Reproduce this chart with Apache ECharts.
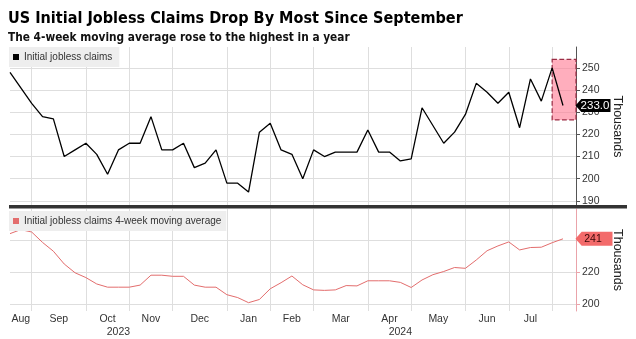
<!DOCTYPE html>
<html><head><meta charset="utf-8">
<script src="https://cdn.jsdelivr.net/npm/echarts@6/dist/echarts.min.js"></script>
<style>html,body{margin:0;padding:0;background:#fff}#c{width:636px;height:339px}</style>
</head><body><div id="c"></div>
<script>
// ---- data ----
const weeks = ['2023-08-12','2023-08-19','2023-08-26','2023-09-02','2023-09-09','2023-09-16','2023-09-23','2023-09-30',
  '2023-10-07','2023-10-14','2023-10-21','2023-10-28','2023-11-04','2023-11-11','2023-11-18','2023-11-25',
  '2023-12-02','2023-12-09','2023-12-16','2023-12-23','2023-12-30','2024-01-06','2024-01-13','2024-01-20','2024-01-27',
  '2024-02-03','2024-02-10','2024-02-17','2024-02-24','2024-03-02','2024-03-09','2024-03-16','2024-03-23','2024-03-30',
  '2024-04-06','2024-04-13','2024-04-20','2024-04-27','2024-05-04','2024-05-11','2024-05-18','2024-05-25',
  '2024-06-01','2024-06-08','2024-06-15','2024-06-22','2024-06-29','2024-07-06','2024-07-13','2024-07-20','2024-07-27','2024-08-03'];
const claims = [248,241,234,228,227,210,213,216,211,202,213,216,216,228,213,213,216,205,207,213,198,198,194,221,225,
  213,211,200,213,210,212,212,212,222,212,212,208,209,232,224,216,221,229,243,239,234,239,223,245,235,250,233];
const avg4w = [244,246.5,245,238.5,233,225,219.5,216.5,212.5,210.5,210.5,210.5,211.8,218,218,217.3,217.3,211.8,210.5,210.5,
  205.8,204,200.8,202.8,209.5,213.3,217.5,212,208.8,208.5,208.8,211.5,211.3,214.5,214.5,214.5,213.5,210.3,215,218.3,
  220.3,222.8,222.3,227.5,233.3,236.3,238.8,233.8,235.3,235.5,238.3,240.75];
const monthLabels = ['Aug','Sep','Oct','Nov','Dec','Jan','Feb','Mar','Apr','May','Jun','Jul'];
const monthBoundaries = [2,7,11,15,20,24,28,33,37,42,46,50]; // week index where each new month starts
const yearLabels = ['2023','2024'];
const yearWeek = [10,36];
const topTicks = [190,200,210,220,230,240,250];
const bottomTicks = [200,220,240];
const bottomLabels = [200,220];
const highlightWeeks = [50, 52.2];
const highlightRange = [226.5, 253.8];

const titleText = 'US Initial Jobless Claims Drop By Most Since September';
const subText = 'The 4-week moving average rose to the highest in a year';

// ---- helpers ----
const ctx = document.createElement('canvas').getContext('2d');
function has(name) {
  ctx.font = 'bold 40px monospace';
  const a = ctx.measureText('abcdefghijklmnopqrstuvwxyz ABCDEFGHIJ').width;
  ctx.font = "bold 40px '" + name + "',monospace";
  const b = ctx.measureText('abcdefghijklmnopqrstuvwxyz ABCDEFGHIJ').width;
  return Math.abs(a - b) > 0.5;
}
const tCand = ['Liberation Sans Narrow', 'DejaVu Sans Condensed', 'Open Sans', 'Liberation Sans'];
const FT = "'" + (tCand.find(has) || 'Liberation Sans') + "',sans-serif";
const FB = "'Liberation Sans',Arial,sans-serif";
function fit(text, target) {
  ctx.font = 'bold 100px ' + FT;
  return 100 * target / ctx.measureText(text).width;
}
const xMax = 52.2;
const monthMid = monthBoundaries.map((b, i) => ((i === 0 ? 0 : monthBoundaries[i - 1]) + b) / 2);
const last = claims.length - 1;
const grid = '#dedede';
const tSize = fit(titleText, 455), sSize = fit(subText, 342);

const chart = echarts.init(document.getElementById('c'), null, {renderer: 'canvas'});
chart.setOption({
  animation: false,
  backgroundColor: '#fff',
  textStyle: {fontFamily: FB},
  title: [
    {text: titleText, left: 8, top: 20.5 - tSize * 0.6, padding: 0,
      textStyle: {fontSize: tSize, fontWeight: 'bold', fontFamily: FT, color: '#000'}},
    {text: subText, left: 8, top: 39.5 - sSize * 0.6, padding: 0,
      textStyle: {fontSize: sSize, fontWeight: 'bold', fontFamily: FT, color: '#111'}}
  ],
  legend: [
    {data: ['Initial jobless claims'], left: 9, top: 47, padding: [5, 7, 5, 4], backgroundColor: '#eeeeee',
      icon: 'rect', itemWidth: 6, itemHeight: 6, selectedMode: false,
      textStyle: {fontSize: 10, color: '#333', fontFamily: FB}},
    {data: ['Initial jobless claims 4-week moving average'], left: 9, top: 211, padding: [5, 5, 5, 4],
      backgroundColor: '#eeeeee', icon: 'rect', itemWidth: 6, itemHeight: 6, selectedMode: false,
      textStyle: {fontSize: 10, color: '#333', fontFamily: FB}}
  ],
  grid: [
    {left: 10, width: 566, top: 47, height: 159, outerBoundsMode: 'none'},
    {left: 10, width: 566, top: 209, height: 102, outerBoundsMode: 'none'}
  ],
  graphic: [
    {type: 'rect', left: 9, top: 205, shape: {width: 618, height: 3.5}, style: {fill: '#333'}, z: 100}
  ],
  xAxis: [
    {type: 'value', gridIndex: 0, min: 0, max: xMax, axisLine: {show: false, onZero: false},
      axisTick: {show: false, customValues: monthBoundaries}, axisLabel: {show: false},
      splitLine: {show: true, lineStyle: {color: grid, width: 1}}},
    {type: 'value', gridIndex: 1, min: 0, max: xMax, position: 'bottom', axisLine: {show: false, onZero: false},
      axisTick: {show: false, customValues: monthBoundaries},
      axisLabel: {customValues: monthMid, margin: 3, fontSize: 10.5, color: '#333',
        formatter: v => monthLabels[monthMid.indexOf(v)] || ''},
      splitLine: {show: true, lineStyle: {color: grid, width: 1}}},
    {type: 'value', gridIndex: 1, min: 0, max: xMax, position: 'bottom', axisLine: {show: false, onZero: false},
      axisTick: {show: false}, splitLine: {show: false},
      axisLabel: {customValues: yearWeek, margin: 16, fontSize: 10.5, color: '#333',
        formatter: v => yearLabels[yearWeek.indexOf(v)] || ''}}
  ],
  yAxis: [
    {type: 'value', gridIndex: 0, position: 'right', min: 187.7, max: 259.4,
      name: 'Thousands', nameLocation: 'middle', nameRotate: -90, nameGap: 35,
      nameTextStyle: {fontSize: 12.5, color: '#222'},
      axisLine: {show: true, onZero: false, lineStyle: {color: '#555', width: 1}},
      axisTick: {show: true, length: 4, customValues: topTicks, lineStyle: {color: '#555'}},
      axisLabel: {customValues: topTicks, margin: 6, fontSize: 10.5, color: '#333'},
      splitLine: {show: true, lineStyle: {color: grid, width: 1}}},
    {type: 'value', gridIndex: 1, position: 'right', min: 195.6, max: 259.4,
      name: 'Thousands', nameLocation: 'middle', nameRotate: -90, nameGap: 35,
      nameTextStyle: {fontSize: 12.5, color: '#222'},
      axisLine: {show: true, onZero: false, lineStyle: {color: '#eaa3aa', width: 1}},
      axisTick: {show: true, length: 4, customValues: bottomTicks, lineStyle: {color: '#eaa3aa'}},
      axisLabel: {customValues: bottomLabels, margin: 6, fontSize: 10.5, color: '#333'},
      splitLine: {show: true, lineStyle: {color: grid, width: 1}}}
  ],
  series: [
    {type: 'line', name: 'Initial jobless claims', xAxisIndex: 0, yAxisIndex: 0,
      data: claims.map((v, i) => [i, v]), symbol: 'none', color: '#000',
      lineStyle: {color: '#000', width: 1.3}, z: 3,
      markArea: {silent: true,
        itemStyle: {color: 'rgba(255,120,145,0.6)', borderColor: '#9b2d45', borderWidth: 1.2, borderType: 'dashed'},
        data: [[{coord: [highlightWeeks[0], highlightRange[1]]}, {coord: [highlightWeeks[1], highlightRange[0]]}]]},
      markPoint: {symbol: 'path://M0,7L6,0L36,0L36,14L6,14Z', symbolSize: [35, 13], symbolOffset: [30, 0],
        symbolKeepAspect: false, itemStyle: {color: '#000'}, silent: true,
        label: {show: true, color: '#fff', fontSize: 11.5, offset: [2, 0], formatter: p => p.value.toFixed(1)},
        data: [{coord: [last, claims[last]], value: claims[last]}]}},
    {type: 'line', name: 'Initial jobless claims 4-week moving average', xAxisIndex: 1, yAxisIndex: 1,
      data: avg4w.map((v, i) => [i, v]), symbol: 'none', color: '#e36d6d',
      lineStyle: {color: '#e36d6d', width: 1}, z: 3,
      markPoint: {symbol: 'path://M0,7L6,0L36,0L36,14L6,14Z', symbolSize: [37, 14], symbolOffset: [31, 0],
        symbolKeepAspect: false, itemStyle: {color: '#f36b6b'}, silent: true,
        label: {show: true, color: '#3a0808', fontSize: 10.5, offset: [-1, 0], formatter: p => String(Math.round(p.value))},
        data: [{coord: [last, avg4w[last]], value: avg4w[last]}]}}
  ]
});
</script></body></html>
